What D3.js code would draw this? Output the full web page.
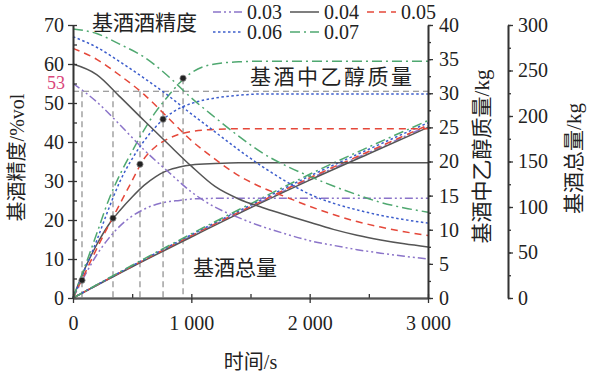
<!DOCTYPE html>
<html>
<head>
<meta charset="utf-8">
<script src="https://cdn.jsdelivr.net/npm/d3@7/dist/d3.min.js"></script>
<style>
    body { margin: 0; background: #fff; }
    text { font-family: "Liberation Serif", "Noto Sans CJK SC", serif; fill: #222; }
</style>
</head>
<body>
<div id="chart"></div>
<script>
// values
const seriesNames = ["0.03", "0.04", "0.05", "0.06", "0.07"];

// 基酒精度 (%vol), left axis
const degreeTime = [0, 200, 400, 600, 800, 1000, 1200, 1400, 1600, 1800, 2000, 2200, 2400, 2600, 2800, 3000];
const degree003 = [55, 50.3, 44.3, 38, 32.5, 27.2, 23.3, 20.6, 18.3, 16.4, 14.7, 13.5, 12.4, 11.5, 10.7, 10];
const degree004 = [60, 57.3, 51.5, 45.5, 39.6, 33.8, 28.6, 25.4, 23.2, 21.3, 19.4, 17.6, 16.1, 14.9, 13.9, 13.1];
const degree005 = [64, 61.2, 57, 52.2, 46.3, 40.4, 35.6, 31.4, 28.3, 25.9, 23.5, 21.4, 19.6, 18.2, 17, 16];
const degree006 = [67, 64.3, 60.5, 56.4, 52, 47.2, 42.6, 38, 33.7, 29.9, 26.6, 24.3, 22.6, 21.2, 20.1, 19.2];
const degree007 = [69, 67.8, 65, 61.8, 57, 51.3, 46.3, 41.5, 37.2, 33.9, 31.2, 28.7, 26.5, 24.5, 23.1, 22];

// 基酒中乙醇质量 (kg), first right axis
const ethanolTime = [0, 100, 200, 300, 400, 500, 600, 700, 800, 900, 1000, 1200, 1400, 1600, 2000, 2500, 3000];
const ethanol003 = [0, 3.3, 6.3, 8.7, 10.6, 12, 13, 13.7, 14.1, 14.3, 14.5, 14.6, 14.6, 14.6, 14.6, 14.6, 14.6];
const ethanol004 = [0, 4.3, 7.8, 10.7, 12.9, 14.8, 16.5, 17.8, 18.7, 19.2, 19.5, 19.7, 19.8, 19.8, 19.8, 19.8, 19.8];
const ethanol005 = [0, 3.6, 7.2, 10.6, 13.9, 17.2, 20.4, 22.2, 23.3, 24, 24.4, 24.7, 24.8, 24.8, 24.8, 24.8, 24.8];
const ethanol006 = [0, 4.2, 8.4, 13, 17.2, 20.4, 23, 25.1, 26.7, 27.8, 28.5, 29.3, 29.7, 29.9, 29.9, 29.9, 29.9];
const ethanol007 = [0, 4.6, 9.4, 14.3, 18.2, 21.5, 24.6, 27.3, 29.5, 31.5, 33, 34.3, 34.6, 34.7, 34.7, 34.7, 34.7];

// 基酒总量 (kg), second right axis
const totalTime = [0, 500, 1000, 1500, 2000, 2500, 3000];
const total003 = [0, 34.7, 68, 100, 131, 160, 189];
const total004 = [0, 34.3, 67, 99, 129.5, 158.5, 187.5];
const total005 = [0, 35, 68.5, 100.5, 132, 161, 190];
const total006 = [0, 35.5, 69.5, 102, 134, 163.5, 192.5];
const total007 = [0, 36, 70.5, 103.5, 136, 166, 195];

// where each degree curve falls to 53 %vol, and the ethanol mass at that moment
const cutDegree = 53;
const cutTime = [76, 338, 566, 761, 930];
const cutEthanol = [2.6, 11.7, 19.6, 26.2, 32.2];

const timeTicks = [0, 1000, 2000, 3000];
const degreeTicks = [0, 10, 20, 30, 40, 50, 60, 70];
const ethanolTicks = [0, 5, 10, 15, 20, 25, 30, 35, 40];
const totalTicks = [0, 50, 100, 150, 200, 250, 300];

class cutChart {
    constructor(parentElement) {
        this.parentElement = parentElement;
        this.colors = ["#8b74c9", "#555555", "#e5483a", "#3c5dcc", "#4fa870"];
        this.dashes = ["8,3,2,3,2,3", null, "7,5", "2.5,2.5", "10,4,2,4"];
        this.initVis();
    }

    initVis() {
        let vis = this;
        vis.margin = {top: 25, right: 162, bottom: 78, left: 73};
        vis.width = 590 - vis.margin.left - vis.margin.right;
        vis.height = 376 - vis.margin.top - vis.margin.bottom;

        vis.root = d3.select("#" + vis.parentElement).append("svg")
            .attr("width", 590)
            .attr("height", 376);
        vis.svg = vis.root.append("g")
            .attr("transform", "translate(" + vis.margin.left + "," + vis.margin.top + ")");

        vis.x = d3.scaleLinear().domain([0, 3000]).range([0, vis.width]);
        vis.yDegree = d3.scaleLinear().domain([0, 70]).range([vis.height, 0]);
        vis.yEthanol = d3.scaleLinear().domain([0, 40]).range([vis.height, 0]);
        vis.yTotal = d3.scaleLinear().domain([0, 300]).range([vis.height, 0]);

        vis.degreeData = [degree003, degree004, degree005, degree006, degree007]
            .map((vals, i) => vals.map((v, j) => ({t: degreeTime[j], v: v, i: i})));
        vis.ethanolData = [ethanol003, ethanol004, ethanol005, ethanol006, ethanol007]
            .map((vals, i) => vals.map((v, j) => ({t: ethanolTime[j], v: v, i: i})));
        vis.totalData = [total003, total004, total005, total006, total007]
            .map((vals, i) => vals.map((v, j) => ({t: totalTime[j], v: v, i: i})));

        vis.updateVis();
    }

    drawLines(data, yScale, cls) {
        let vis = this;
        let line = d3.line()
            .curve(d3.curveMonotoneX)
            .x(d => vis.x(d.t))
            .y(d => yScale(d.v));
        vis.svg.selectAll("." + cls)
            .data(data)
            .enter().append("path")
            .attr("class", cls)
            .attr("fill", "none")
            .attr("stroke", (d, i) => vis.colors[i])
            .attr("stroke-width", 1.5)
            .attr("stroke-dasharray", (d, i) => vis.dashes[i])
            .attr("d", line);
    }

    updateVis() {
        let vis = this;

        // guide lines at 53 %vol
        vis.svg.append("line")
            .attr("x1", 0).attr("x2", vis.width)
            .attr("y1", vis.yDegree(cutDegree)).attr("y2", vis.yDegree(cutDegree))
            .attr("stroke", "#808080").attr("stroke-width", 1.1)
            .attr("stroke-dasharray", "6,4");
        vis.svg.selectAll(".cut")
            .data(cutTime)
            .enter().append("line")
            .attr("class", "cut")
            .attr("x1", d => vis.x(d)).attr("x2", d => vis.x(d))
            .attr("y1", (d, i) => Math.min(vis.yDegree(cutDegree), vis.yEthanol(cutEthanol[i])))
            .attr("y2", vis.height)
            .attr("stroke", "#808080").attr("stroke-width", 1.1)
            .attr("stroke-dasharray", "6,4");

        vis.drawLines(vis.totalData, vis.yTotal, "total");
        vis.drawLines(vis.ethanolData, vis.yEthanol, "ethanol");
        vis.drawLines(vis.degreeData, vis.yDegree, "degree");

        vis.svg.selectAll(".dot")
            .data(cutTime)
            .enter().append("circle")
            .attr("class", "dot")
            .attr("cx", d => vis.x(d))
            .attr("cy", (d, i) => vis.yEthanol(cutEthanol[i]))
            .attr("r", 3.1)
            .attr("fill", "#222")
            .attr("stroke", "#888")
            .attr("stroke-width", 0.8);

        // axes
        let fmt = d => d3.format(",")(d).replace(",", " ");
        let styleAxis = (g, labels) => {
            g.select(".domain").attr("stroke", "#333").attr("stroke-width", 1.6);
            g.selectAll(".tick line").attr("stroke", "#333").attr("stroke-width", 1.3);
            g.selectAll("text")
                .style("font-size", labels ? "20px" : "0px")
                .attr("fill", "#222");
        };

        vis.svg.append("g")
            .call(d3.axisLeft(vis.yDegree).tickValues(d3.range(0, 71, 5)).tickSize(-4).tickSizeOuter(0).tickFormat(""))
            .call(g => styleAxis(g, false));
        vis.svg.append("g")
            .call(d3.axisLeft(vis.yDegree).tickValues(degreeTicks).tickSize(5).tickSizeOuter(0).tickPadding(4))
            .call(g => styleAxis(g, true));

        vis.svg.append("g")
            .attr("transform", "translate(0," + vis.height + ")")
            .call(d3.axisBottom(vis.x).tickValues(d3.range(0, 3001, 500)).tickSize(-4).tickSizeOuter(0).tickFormat(""))
            .call(g => styleAxis(g, false));
        vis.svg.append("g")
            .attr("transform", "translate(0," + vis.height + ")")
            .call(d3.axisBottom(vis.x).tickValues(timeTicks).tickSize(5).tickSizeOuter(0).tickPadding(13).tickFormat(fmt))
            .call(g => styleAxis(g, true))
            .call(g => g.select(".domain").attr("stroke", "#555").attr("stroke-width", 2.2));

        vis.svg.append("g")
            .attr("transform", "translate(" + vis.width + ",0)")
            .call(d3.axisRight(vis.yEthanol).tickValues(d3.range(0, 41, 2.5)).tickSize(3).tickSizeOuter(0).tickFormat(""))
            .call(g => styleAxis(g, false));
        vis.svg.append("g")
            .attr("transform", "translate(" + vis.width + ",0)")
            .call(d3.axisRight(vis.yEthanol).tickValues(ethanolTicks).tickSize(5).tickSizeOuter(0).tickPadding(6))
            .call(g => styleAxis(g, true));

        vis.svg.append("g")
            .attr("transform", "translate(" + (vis.width + 80) + ",0)")
            .call(d3.axisRight(vis.yTotal).tickValues(d3.range(0, 301, 25)).tickSize(3).tickSizeOuter(0).tickFormat(""))
            .call(g => styleAxis(g, false));
        vis.svg.append("g")
            .attr("transform", "translate(" + (vis.width + 80) + ",0)")
            .call(d3.axisRight(vis.yTotal).tickValues(totalTicks).tickSize(5).tickSizeOuter(0).tickPadding(5))
            .call(g => styleAxis(g, true));

        // 53 marker on the left axis
        vis.svg.append("text")
            .attr("x", -8)
            .attr("y", vis.yDegree(cutDegree) - 2)
            .attr("text-anchor", "end")
            .style("font-size", "18px")
            .style("fill", "#d9457a")
            .text(cutDegree);

        // axis titles
        vis.svg.append("text")
            .attr("transform", "translate(-56," + (vis.height / 2 - 4) + ") rotate(-90)")
            .attr("text-anchor", "middle")
            .attr("dy", "0.35em")
            .style("font-size", "20px")
            .text("基酒精度/%vol");
        vis.svg.append("text")
            .attr("transform", "translate(" + (vis.width + 54) + "," + (vis.height / 2 - 5) + ") rotate(-90)")
            .attr("text-anchor", "middle")
            .attr("dy", "0.35em")
            .style("font-size", "21px")
            .text("基酒中乙醇质量/kg");
        vis.svg.append("text")
            .attr("transform", "translate(" + (vis.width + 146) + "," + (vis.height / 2 - 3) + ") rotate(-90)")
            .attr("text-anchor", "middle")
            .attr("dy", "0.35em")
            .style("font-size", "21px")
            .text("基酒总量/kg");
        vis.svg.append("text")
            .attr("x", vis.width / 2)
            .attr("y", vis.height + 71)
            .attr("text-anchor", "middle")
            .style("font-size", "20px")
            .text("时间/s");

        // curve family labels
        vis.svg.append("text").attr("x", 19).attr("y", 5)
            .style("font-size", "21px").text("基酒酒精度");
        vis.svg.append("text").attr("x", 177).attr("y", 59)
            .style("font-size", "21px").style("letter-spacing", "2.5px").text("基酒中乙醇质量");
        vis.svg.append("text").attr("x", 120).attr("y", 250)
            .style("font-size", "21px").text("基酒总量");

        // legend, three entries on the first row and two on the second
        let legend = vis.root.append("g").attr("class", "legend");
        let items = legend.selectAll("g")
            .data(seriesNames)
            .enter().append("g")
            .attr("transform", (d, i) => {
                let col = i < 3 ? i : i - 3;
                let row = i < 3 ? 0 : 1;
                return "translate(" + (213 + col * 77) + "," + (12 + row * 20) + ")";
            });
        items.append("line")
            .attr("x1", 0).attr("x2", 29)
            .attr("stroke", (d, i) => vis.colors[i])
            .attr("stroke-width", 1.5)
            .attr("stroke-dasharray", (d, i) => vis.dashes[i]);
        items.append("text")
            .attr("x", 34)
            .attr("dy", "0.35em")
            .style("font-size", "20px")
            .text(d => d);
    }
}

new cutChart("chart");
</script>
</body>
</html>
